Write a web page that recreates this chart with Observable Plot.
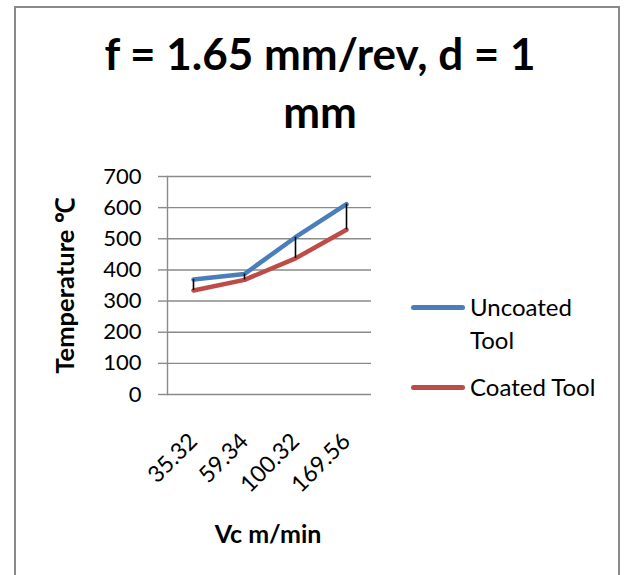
<!DOCTYPE html>
<html>
<head>
<meta charset="utf-8">
<script src="https://cdn.jsdelivr.net/npm/d3@7"></script>
<script src="https://cdn.jsdelivr.net/npm/@observablehq/plot@0.6"></script>
<style>
  html, body { margin: 0; padding: 0; background: #fff; }
  body { width: 629px; height: 575px; overflow: hidden; position: relative; font-family: Lato, "Open Sans", sans-serif; color: #000; }
  .abs { position: absolute; }
  #frame { left: 14px; top: 6px; width: 606px; height: 640px; border: 2px solid #8a8a8a; box-sizing: border-box; }
  #title { left: 70px; width: 500px; top: 24px; text-align: center; font-weight: bold; font-size: 44px; line-height: 58px; white-space: nowrap; }
  #ytitle { left: 65px; top: 286px; transform: translate(-50%, -50%) rotate(-90deg); font-weight: bold; font-size: 25.5px; white-space: nowrap; line-height: 1; }
  #xtitle { left: 268px; top: 533px; transform: translate(-50%, -50%); font-weight: bold; font-size: 25px; white-space: nowrap; line-height: 1; }
  #chart { left: 0; top: 150px; }
  .sw { height: 5px; border-radius: 3px; width: 54px; left: 411px; }
  .lt { left: 470px; font-size: 24px; line-height: 33px; white-space: nowrap; }
</style>
</head>
<body>
<div id="frame" class="abs"></div>
<div id="title" class="abs">f = 1.65 mm/rev, d = 1<br>mm</div>
<div id="ytitle" class="abs">Temperature ℃</div>
<div id="xtitle" class="abs">Vc m/min</div>
<div id="chart" class="abs"></div>
<div id="legend"></div>
<script>
// ---- data ----
const categories = ["35.32", "59.34", "100.32", "169.56"];
const uncoated = [369, 387, 505, 611];
const coated = [334, 368, 437, 529];
const yTicks = [0, 100, 200, 300, 400, 500, 600, 700];
const seriesNames = ["Uncoated\nTool", "Coated Tool"];
const seriesColors = ["#4A7EBB", "#BE4B48"];

const rows = categories.map((c, i) => ({cat: c, uncoated: uncoated[i], coated: coated[i]}));

const plot = Plot.plot({
  width: 400,
  height: 420,
  marginLeft: 167,
  marginRight: 29,
  marginTop: 26,
  marginBottom: 176,
  style: {fontFamily: "Lato, 'Open Sans', sans-serif", color: "#000", background: "transparent"},
  x: {type: "point", domain: categories, padding: 0.5},
  y: {domain: [0, 700]},
  marks: [
    Plot.gridY(yTicks, {stroke: "#8a8a8a", strokeOpacity: 1, strokeWidth: 1.4}),
    Plot.frame({anchor: "left", stroke: "#8a8a8a", strokeWidth: 1.4}),
    Plot.axisY({ticks: yTicks, tickSize: 9, tickPadding: 17, stroke: "#8a8a8a", strokeWidth: 1.4, fill: "#000", fontSize: 22, label: null}),
    Plot.axisX({tickSize: 0, tickRotate: -45, tickPadding: 43, fill: "#000", fontSize: 23, label: null}),
    Plot.lineY(rows, {x: "cat", y: "uncoated", stroke: seriesColors[0], strokeWidth: 4.5, strokeLinecap: "round", strokeLinejoin: "round"}),
    Plot.lineY(rows, {x: "cat", y: "coated", stroke: seriesColors[1], strokeWidth: 4.5, strokeLinecap: "round", strokeLinejoin: "round"}),
    Plot.ruleX(rows, {x: "cat", y1: "coated", y2: "uncoated", stroke: "#000", strokeWidth: 1.6})
  ]
});
document.getElementById("chart").appendChild(plot);

// legend
const legend = document.getElementById("legend");
const legendY = [307, 387];
seriesNames.forEach((name, i) => {
  const sw = document.createElement("div");
  sw.className = "abs sw";
  sw.style.top = (legendY[i] - 2.5) + "px";
  sw.style.background = seriesColors[i];
  legend.appendChild(sw);
  const t = document.createElement("div");
  t.className = "abs lt";
  t.style.top = (legendY[i] - 17.5) + "px";
  t.innerHTML = name.replace("\n", "<br>");
  legend.appendChild(t);
});
</script>
</body>
</html>
